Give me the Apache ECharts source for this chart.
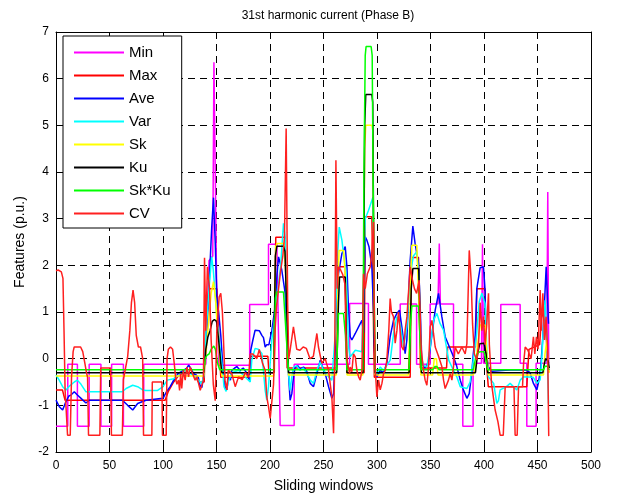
<!DOCTYPE html>
<html><head><meta charset="utf-8">
<script src="https://cdn.jsdelivr.net/npm/echarts/dist/echarts.min.js"></script>
<style>html,body{margin:0;padding:0;background:#fff}#c{width:618px;height:498px}</style>
</head><body><div id="c"></div>
<script>
const seriesNames = ['Min','Max','Ave','Var','Sk','Ku','Sk*Ku','CV'];
const seriesColors = ['#ff00ff','#ff0000','#0000ff','#00ffff','#ffff00','#000000','#00ff00','#ff2020'];

const minData = [[0,-1.45],[11,-1.45],[11,-0.12],[20,-0.12],[20,-1.45],[31,-1.45],[31,-0.12],[42,-0.12],[42,-1.45],[52,-1.45],[52,-0.12],[63,-0.12],[63,-1.45],[82,-1.45],[82,-0.12],[140,-0.12],[141.5,1.0],[143,2.1],[146.5,2.2],[147.6,6.35],[148.8,6.35],[150,1.8],[152,-0.14],[181,-0.14],[181,1.16],[198.6,1.16],[198.6,2.45],[206.4,2.45],[209.5,-1.43],[222.6,-1.43],[222.6,-0.12],[274.4,-0.12],[274.4,1.18],[292,1.18],[292,-0.12],[321.7,-0.12],[321.7,1.17],[337,1.17],[337,-0.12],[349.7,-0.12],[349.7,1.17],[357,1.17],[358.2,2.47],[359.2,1.17],[371.5,1.17],[371.5,-0.12],[380.2,-0.12],[380.2,-1.45],[389.8,-1.45],[389.8,-0.1],[397.6,-0.1],[398.6,2.45],[399.6,-0.1],[415.7,-0.1],[415.7,1.16],[433.8,1.16],[433.8,-0.1],[440,-0.1],[440,-1.45],[448.7,-1.45],[448.7,-0.1],[458.6,-0.1],[459.6,3.57],[460.5,-0.1]];

const maxData = [[0,-0.67],[6,-0.67],[8.5,-0.89],[102,-0.89],[105,-0.7],[110,-0.5],[115,-0.35],[120,-0.3],[128,-0.3],[133,-0.5],[138.5,-0.5],[140,1.0],[143,1.5],[150.3,1.5],[152,0.5],[154,-0.4],[181,-0.4],[182,0.05],[198,0.05],[199,-0.3],[204,-0.3],[205.4,2.6],[214.2,2.6],[216,-0.2],[262,-0.2],[263.5,1.97],[270.3,1.97],[272,-0.3],[288,-0.3],[289,3.04],[295.2,3.04],[297.5,-0.4],[331,-0.4],[332.2,2.17],[338.8,2.17],[340.5,-0.2],[365,-0.2],[366,0.25],[392,0.25],[393.3,1.5],[401,1.5],[402,0.0],[404,-0.6],[440,-0.6],[442,0.2],[452,0.3],[454,1.0],[457,0.8],[459,0.2],[460.5,-0.3]];

const aveData = [[0,-0.89],[3.1,-1.03],[6.2,-1.1],[9.3,-0.92],[12,-0.8],[14,-0.78],[17.1,-0.71],[20,-0.78],[23.4,-0.85],[28,-0.95],[31,-0.89],[62,-0.89],[67,-1.0],[71.7,-1.1],[76.3,-0.96],[84,-0.89],[100,-0.85],[103,-0.72],[106.7,-0.6],[110,-0.46],[114,-0.32],[119,-0.25],[122,-0.21],[124,-0.14],[126,-0.21],[128.5,-0.32],[131,-0.35],[133,-0.4],[134.5,-0.57],[136.3,-0.62],[137.5,-0.45],[139.4,0.0],[141.5,0.8],[143.5,1.8],[145.5,2.8],[147.2,3.45],[148.8,2.5],[150.3,1.32],[152,1.0],[154,0.5],[156.6,-0.39],[158,-0.6],[159.7,-0.67],[161.2,-0.39],[163,-0.46],[164.3,-0.25],[167,-0.2],[169,-0.17],[172,-0.25],[175,-0.2],[178,-0.3],[180.8,-0.46],[182,0.18],[184,0.4],[186.1,0.61],[187.7,0.65],[190,0.6],[192.4,0.5],[193.9,0.45],[195.5,0.25],[197,0.3],[199,0.3],[201.7,0.6],[204.8,1.11],[206.5,1.8],[208,2.18],[210,2.0],[211,1.9],[214.2,1.4],[215.7,0.54],[217.3,-0.32],[218.8,-0.89],[220.4,-0.75],[222,-0.39],[223.5,-0.18],[226,-0.15],[228,-0.22],[231.3,-0.18],[234,-0.25],[237.6,-0.53],[240.7,-0.6],[243.8,-0.32],[247,-0.03],[248.5,-0.14],[251.6,-0.32],[254.7,-0.6],[257.8,-0.85],[259.4,-0.75],[261,0.18],[262.5,1.25],[264,1.82],[267.2,2.25],[270.3,2.4],[271.9,1.97],[273.4,1.04],[275,0.47],[276.5,0.4],[279.7,0.54],[282.8,0.68],[285.9,0.82],[287.4,0.55],[289,2.61],[290.5,2.54],[292.5,2.4],[295.2,1.97],[296.8,1.0],[298.3,-0.32],[299.9,-0.39],[303,-0.25],[306,-0.3],[309.2,-0.1],[312.3,0.47],[315.4,0.82],[318.6,0.97],[321,1.04],[323.2,0.68],[326.3,0.11],[327.9,0.4],[329.5,1.32],[331,2.11],[333.5,2.84],[335.6,2.47],[338.8,2.04],[340.3,1.18],[341.9,-0.1],[345,-0.2],[348.1,-0.07],[351,0.45],[354.4,1.04],[357.5,1.4],[360.6,0.9],[363.7,0.47],[366.8,0.3],[371.5,0.04],[374.6,-0.17],[377.8,-0.46],[380.9,-0.68],[384,-0.85],[386.2,-0.75],[388.6,-0.3],[390,0.1],[391.8,0.5],[393.3,1.5],[396.4,1.95],[399.5,1.97],[401,1.47],[402,0.18],[404,-0.17],[407,-0.27],[420,-0.25],[430,-0.24],[440,-0.25],[443,-0.3],[446.2,-0.53],[449.4,-0.67],[451,-0.5],[453.1,-0.17],[455,0.47],[457.1,1.47],[458.1,1.97],[459.3,1.3],[460.3,0.75]];

const varData = [[0,-0.35],[3,-0.46],[6.2,-0.6],[9.3,-0.67],[12,-0.6],[17.1,-0.5],[20,-0.46],[23.4,-0.55],[28,-0.71],[31,-0.71],[62,-0.71],[65.5,-0.64],[71.7,-0.57],[76.3,-0.6],[81,-0.67],[84,-0.68],[95,-0.68],[100,-0.6],[104,-0.46],[110,-0.43],[115,-0.35],[119,-0.28],[124,-0.3],[128,-0.35],[133,-0.46],[136,-0.53],[138,-0.4],[140,0.5],[143,1.5],[145.5,2.18],[147,1.9],[149,1.3],[151,0.7],[153,0.3],[155.5,-0.2],[157,-0.6],[159,-0.7],[161,-0.5],[164.3,-0.3],[170.6,-0.25],[177,-0.4],[181.5,-0.5],[183,-0.03],[186.1,0.22],[189,0.2],[192.4,0.11],[195.5,-0.68],[197,-0.89],[198.6,-0.6],[201.7,0.4],[204.8,0.97],[208,1.6],[210,2.0],[212.6,2.9],[214.2,2.6],[215.7,0.54],[217.3,-0.32],[218.8,-0.68],[220.4,-0.39],[222,-0.18],[225,-0.15],[228,-0.25],[231,-0.2],[234,-0.3],[237.6,-0.46],[240.7,-0.53],[243.8,-0.25],[247,-0.07],[250,-0.25],[254.7,-0.39],[257.8,-0.46],[261,0.54],[262.5,2.0],[264.7,2.82],[267.2,2.54],[268.7,2.25],[271.2,1.82],[273.4,0.25],[275,0.04],[279.7,0.18],[285.9,0.15],[287.4,1.5],[289,3.0],[292.1,3.18],[296.2,3.46],[297.3,1.0],[298.3,-0.25],[300,-0.32],[303,-0.18],[306,-0.25],[312.4,-0.03],[315.5,0.54],[318.6,0.9],[321.7,0.75],[324.8,0.25],[327.9,0.68],[331,1.8],[334,2.2],[337.2,2.29],[339.4,1.68],[341.3,0.04],[343.5,-0.15],[346.6,-0.18],[349.7,0.25],[352.8,0.82],[356,0.97],[359,0.75],[362.2,0.61],[367,-0.03],[371.5,-0.25],[374.6,-0.39],[377.8,-0.6],[384,-0.64],[387,-0.5],[390,-0.03],[393,0.5],[395.5,1.22],[398,1.4],[400,1.25],[401,1.18],[402,0.6],[403,-0.1],[404.2,-0.39],[409,-0.53],[412,-0.96],[413.5,-0.9],[415.1,-0.67],[421,-0.6],[424.4,-0.53],[430.7,-0.67],[433.8,-0.46],[437,-0.39],[446,-0.4],[449.4,-0.53],[452.5,-0.45],[454,0.0],[455.6,0.7],[457.1,1.25],[458.7,0.5],[460.3,-0.96]];

const skData = [[0,-0.37],[138,-0.37],[140.5,0.2],[143,0.9],[145,1.4],[147.2,1.65],[149,1.3],[151,0.6],[153,0.0],[155,-0.37],[203.5,-0.37],[205.3,2.4],[206.5,2.47],[213,2.47],[215.7,1.5],[217.3,-0.35],[262,-0.35],[263.5,1.5],[264.5,2.32],[268.7,2.32],[270.5,1.75],[272,-0.35],[286.8,-0.35],[288.5,4.5],[289.5,5.0],[295.2,5.0],[296,4.9],[297.5,1.0],[298.3,-0.35],[329.5,-0.35],[331.5,1.8],[332.6,2.43],[337.2,2.43],[339.5,1.0],[341,-0.35],[352,-0.35],[353.5,0.0],[355.5,0.0],[357,-0.35],[390,-0.35],[392,-0.2],[394,0.3],[396.4,0.72],[401,0.72],[403,0.0],[404.2,-0.35],[455.6,-0.35],[457,0.1],[458.7,0.4],[460,-0.2],[461,-0.3]];

const kuData = [[0,-0.3],[138,-0.3],[140,0.2],[142,0.47],[144,0.6],[146,0.8],[148,0.84],[150,0.8],[152,0.4],[154,-0.1],[155,-0.3],[203.5,-0.3],[205,2.2],[206.4,2.41],[212.6,2.41],[214,2.3],[215.7,1.0],[217.3,-0.3],[262.3,-0.3],[264,1.2],[265,1.75],[270.3,1.75],[271.9,-0.3],[287,-0.3],[288.5,5.0],[289.5,5.66],[295.2,5.66],[296,5.5],[297.5,0.5],[298.3,-0.3],[330,-0.3],[332,1.5],[333.5,1.93],[339,1.93],[340.5,0.5],[341.5,-0.3],[392,-0.3],[394,0.1],[396,0.32],[400,0.33],[402,0.1],[403.5,-0.3],[455,-0.3],[456.5,-0.1],[457.5,0.0],[460,-0.05],[461,-0.2]];

const skkuData = [[0,-0.24],[138,-0.24],[139.5,0.0],[141,0.07],[143,0.1],[145,0.2],[147.5,0.27],[149,0.2],[151,-0.1],[153,-0.24],[203.5,-0.24],[205,1.3],[206.4,1.43],[212.6,1.43],[214,1.4],[215.7,0.3],[217.3,-0.24],[262.3,-0.24],[264,0.97],[268.7,0.97],[270.5,0.5],[271.9,-0.24],[286.8,-0.24],[287.8,4.0],[289,6.5],[289.8,6.69],[294.5,6.69],[295.5,6.5],[297,2.0],[298.3,-0.24],[330,-0.24],[331.5,0.8],[332.6,1.13],[338.8,1.13],[340.5,0.3],[341.5,-0.24],[352,-0.24],[354,-0.17],[356,-0.17],[358,-0.24],[390,-0.24],[392,0.0],[394,0.12],[396.4,0.15],[400,0.15],[402,-0.05],[403.5,-0.24],[455.6,-0.24],[457,-0.16],[459,-0.16],[461,-0.24]];

const cvData = [[0,1.88],[2,1.9],[5,1.86],[6.5,1.72],[7.5,0.6],[8.5,-0.67],[10.8,-1.64],[13.3,-1.64],[14.5,-0.4],[16,0.15],[17,0.25],[23,0.25],[25,0.15],[27,-0.1],[28.5,-0.3],[29.5,-0.4],[30.4,-1.64],[41,-1.64],[41.8,-0.2],[51,-0.2],[51.8,-1.64],[62,-1.64],[63,-0.45],[65,-0.2],[67,0.05],[69,0.6],[70.5,1.2],[72,1.47],[73.5,1.2],[75,0.5],[77,0.25],[79,0.25],[81,0.0],[81.8,-1.64],[89.6,-1.64],[90,-0.5],[99,-0.5],[99.5,-1.64],[103,-1.64],[103.8,0.0],[105,0.2],[107,0.25],[109,0.2],[110.5,-0.1],[112,-0.45],[113,-0.55],[114.5,-0.46],[115.5,-0.68],[116.5,-0.32],[117.5,-0.64],[119,-0.25],[120.7,-0.46],[122.3,-0.18],[123.9,-0.39],[125.4,-0.18],[127,-0.28],[128.5,-0.32],[130,-0.46],[131.7,-0.39],[133.2,-0.53],[134.8,-0.68],[136.3,-0.68],[137.8,-0.46],[138.8,2.16],[140,0.6],[141.5,1.97],[143.5,1.5],[145,0.4],[147,-0.55],[148.8,-0.9],[150.3,0.6],[152.5,1.32],[154,1.4],[155.5,1.0],[156.6,0.97],[158,-0.46],[159.7,-0.67],[161,-0.25],[164.3,-0.32],[167.5,-0.6],[170.6,-0.39],[174,-0.45],[177,-0.3],[180,-0.4],[181.5,0.1],[184,0.1],[187.7,0.0],[190,0.2],[193,-0.1],[195.5,-0.25],[197,-0.82],[198.6,-1.03],[200.2,-1.28],[201.7,-1.25],[203.3,-0.55],[204.8,0.61],[206,1.1],[208,1.5],[210,1.9],[212,2.2],[213.5,2.6],[215.1,4.93],[216.5,1.2],[217.5,0.0],[218.8,0.18],[221.9,0.68],[225,0.2],[228,0.18],[231,0.25],[234,0.22],[237.4,0.0],[240.5,0.05],[243.8,0.54],[245.3,0.25],[248.4,-0.1],[251.6,0.0],[254.7,-0.25],[257.8,-0.82],[259.4,-1.6],[260.5,0.0],[261.6,4.25],[262.8,1.5],[264,1.97],[266,1.9],[268,1.8],[270,1.6],[271.5,0.04],[274.4,-0.32],[275,-0.18],[276.5,-0.28],[278,0.1],[279.7,0.04],[281.2,-0.25],[282.8,-0.39],[284.3,-0.46],[285.9,-0.25],[287.4,1.82],[289,1.5],[291,1.82],[293.7,1.97],[295.2,2.3],[296.8,2.93],[297.5,1.0],[298.3,-0.18],[299.9,-0.82],[301.5,-0.46],[303,-0.67],[304.6,-0.53],[306.1,-0.32],[307.7,-0.25],[309.2,-0.03],[311,0.6],[312.3,1.29],[313.5,1.0],[315.4,0.9],[317,0.33],[318.6,0.6],[320.1,1.0],[321.7,0.6],[323.2,0.25],[324.8,0.18],[326.3,0.61],[328,0.9],[331,1.97],[333,1.7],[335,1.5],[337,1.4],[339.4,1.68],[341.3,0.2],[343.5,-0.25],[345,-0.46],[346.6,-0.57],[348.1,-0.2],[349.7,0.68],[351.3,0.82],[352.8,0.54],[354.4,0.25],[357.5,0.05],[360.6,-0.17],[362.2,-0.46],[363.7,-0.64],[366.8,-0.46],[368.4,-0.32],[370,-0.46],[371.5,-0.17],[373,0.25],[376,0.1],[379.3,0.25],[382.4,0.1],[384,0.32],[386.2,2.32],[388,1.68],[389.3,0.75],[391,0.1],[393.3,-0.03],[394.8,0.25],[396.4,1.2],[398,0.6],[399.5,0.9],[401,0.3],[402.5,0.7],[404.2,1.4],[405,0.3],[407,-0.53],[410.4,-1.1],[413,-1.35],[415.1,-1.64],[418,-1.64],[419.8,-0.6],[428,-0.6],[429.1,-1.64],[431,-1.64],[432.3,-0.6],[436,-0.6],[437,-0.1],[438.5,0.25],[441,0.18],[444,0.0],[446.2,0.47],[447.5,0.1],[449,0.47],[450.5,0.2],[452.5,1.47],[453.5,0.6],[455,1.4],[456.5,0.4],[458,0.9],[459.5,0.2],[460.5,-1.66]];

const allData = [minData, maxData, aveData, varData, skData, kuData, skkuData, cvData];

const FONT = 'Liberation Sans, Arial, Helvetica, sans-serif';
const chart = echarts.init(document.getElementById('c'), null, {renderer: 'canvas'});
const axisCommon = {
  axisLine: {show: true, onZero: false, lineStyle: {color: '#000', width: 1}},
  axisTick: {show: true, inside: true, length: 5, lineStyle: {color: '#000'}},
};
chart.setOption({
  animation: false,
  backgroundColor: '#fff',
  title: {text: '31st harmonic current (Phase B)', left: 323, top: 5, textAlign: 'center',
    textStyle: {fontFamily: FONT, fontSize: 12, fontWeight: 'normal', color: '#000'}},
  grid: {left: 56, right: 27, top: 32, bottom: 46, containLabel: false},
  legend: {orient: 'vertical', left: 63, top: 36, padding: [9, 11, 7, 10], itemGap: 8,
    itemWidth: 50, itemHeight: 14, borderColor: '#000', borderWidth: 1, borderRadius: 0,
    backgroundColor: '#fff', itemStyle: {opacity: 0},
    textStyle: {fontFamily: FONT, fontSize: 15, color: '#000'},
    data: seriesNames},
  xAxis: [
    Object.assign({type: 'value', min: 0, max: 500, interval: 50, position: 'bottom',
      axisLabel: {color: '#000', fontSize: 12, fontFamily: FONT, margin: 8},
      splitLine: {show: true, lineStyle: {color: '#000', type: [7, 5], width: 1}},
      name: 'Sliding windows', nameLocation: 'middle', nameGap: 27,
      nameTextStyle: {fontFamily: FONT, fontSize: 14, color: '#000'}}, axisCommon),
    Object.assign({type: 'value', min: 0, max: 500, interval: 50, position: 'top',
      axisLabel: {show: false}, splitLine: {show: false}}, axisCommon)
  ],
  yAxis: [
    Object.assign({type: 'value', min: -2, max: 7, interval: 1, position: 'left',
      axisLabel: {color: '#000', fontSize: 12, fontFamily: FONT, margin: 7},
      splitLine: {show: true, lineStyle: {color: '#000', type: [7, 5], width: 1}},
      name: 'Features (p.u.)', nameLocation: 'middle', nameGap: 29,
      nameTextStyle: {fontFamily: FONT, fontSize: 14, color: '#000'}}, axisCommon),
    Object.assign({type: 'value', min: -2, max: 7, interval: 1, position: 'right',
      axisLabel: {show: false}, splitLine: {show: false}}, axisCommon)
  ],
  series: seriesNames.map((n, i) => ({
    name: n, type: 'line', data: allData[i], symbol: 'none', showSymbol: false,
    color: seriesColors[i], lineStyle: {color: seriesColors[i], width: 1.5},
    xAxisIndex: 0, yAxisIndex: 0, silent: true, clip: true
  }))
});
</script>
</body></html>
